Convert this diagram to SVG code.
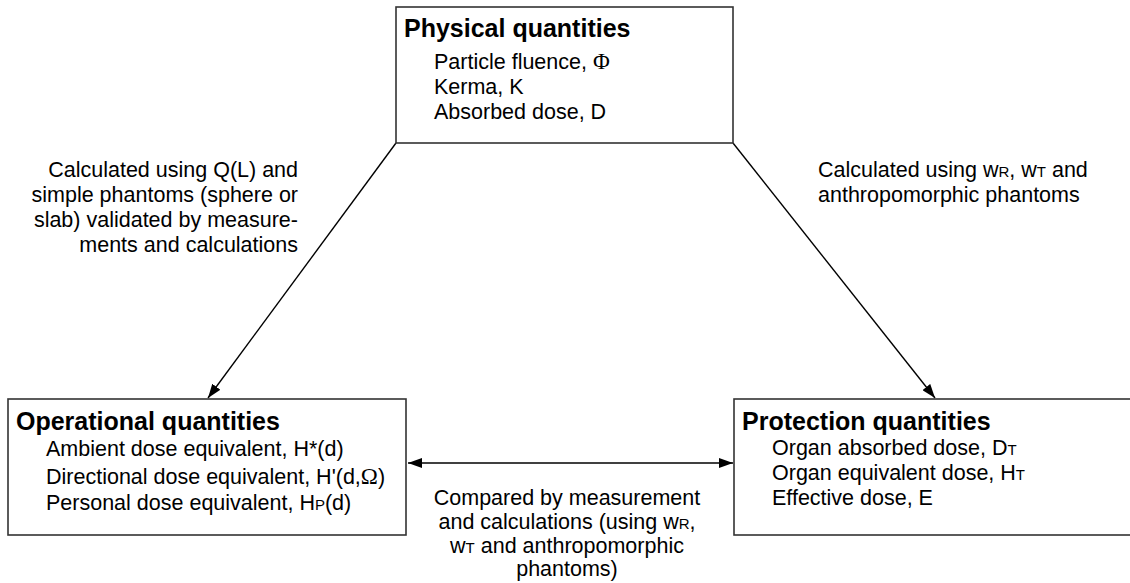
<svg xmlns="http://www.w3.org/2000/svg" width="1130" height="583" viewBox="0 0 1130 583">
<style>
.box{fill:#fff;stroke:#333;stroke-width:1.6}
.t{font-family:"Liberation Sans",Arial,sans-serif;font-size:25px;font-weight:bold;fill:#000}
.b{font-family:"Liberation Sans",Arial,sans-serif;font-size:21.5px;fill:#000}
.g{font-family:"Liberation Serif","Times New Roman",serif;font-size:23px}
.s{font-size:15px}
.c{stroke:#000;stroke-width:1.4;fill:none}
</style>
<defs>
<marker id="ah" viewBox="0 0 14 10" refX="14" refY="5" markerWidth="14" markerHeight="10" markerUnits="userSpaceOnUse" orient="auto-start-reverse">
<path d="M0,0 L14,5 L0,10 Z" fill="#000"/>
</marker>
</defs>
<rect width="1130" height="583" fill="#fff"/>
<g id="connectors">
<line class="c" x1="396" y1="143" x2="208" y2="398" marker-end="url(#ah)"/>
<line class="c" x1="733" y1="143" x2="935" y2="398" marker-end="url(#ah)"/>
<line class="c" x1="408" y1="463" x2="733" y2="463" marker-start="url(#ah)" marker-end="url(#ah)"/>
</g>
<g id="physical">
<rect class="box" x="396" y="7" width="337" height="136"/>
<text class="t" x="404" y="37">Physical quantities</text>
<text class="b" x="434" y="69">Particle fluence, <tspan class="g">Φ</tspan></text>
<text class="b" x="434" y="94">Kerma, K</text>
<text class="b" x="434" y="119">Absorbed dose, D</text>
</g>
<g id="operational">
<rect class="box" x="8" y="399" width="398" height="136"/>
<text class="t" x="16" y="430">Operational quantities</text>
<text class="b" x="46" y="456">Ambient dose equivalent, H*(d)</text>
<text class="b" x="46" y="484">Directional dose equivalent, H'(d,<tspan class="g">Ω</tspan>)</text>
<text class="b" x="46" y="510">Personal dose equivalent, H<tspan class="s">P</tspan>(d)</text>
</g>
<g id="protection">
<rect class="box" x="734" y="399" width="400" height="136"/>
<text class="t" x="742" y="430">Protection quantities</text>
<text class="b" x="772" y="455">Organ absorbed dose, D<tspan class="s">T</tspan></text>
<text class="b" x="772" y="480">Organ equivalent dose, H<tspan class="s">T</tspan></text>
<text class="b" x="772" y="505">Effective dose, E</text>
</g>
<g id="labels">
<text class="b" text-anchor="end" x="298" y="177">Calculated using Q(L) and</text>
<text class="b" text-anchor="end" x="298" y="202">simple phantoms (sphere or</text>
<text class="b" text-anchor="end" x="298" y="227">slab) validated by measure-</text>
<text class="b" text-anchor="end" x="298" y="252">ments and calculations</text>
<text class="b" x="818" y="177">Calculated using w<tspan class="s">R</tspan>, w<tspan class="s">T</tspan> and</text>
<text class="b" x="818" y="202">anthropomorphic phantoms</text>
<text class="b" text-anchor="middle" x="567" y="505">Compared by measurement</text>
<text class="b" text-anchor="middle" x="567" y="529">and calculations (using w<tspan class="s">R</tspan>,</text>
<text class="b" text-anchor="middle" x="567" y="553">w<tspan class="s">T</tspan> and anthropomorphic</text>
<text class="b" text-anchor="middle" x="567" y="576">phantoms)</text>
</g>
</svg>
